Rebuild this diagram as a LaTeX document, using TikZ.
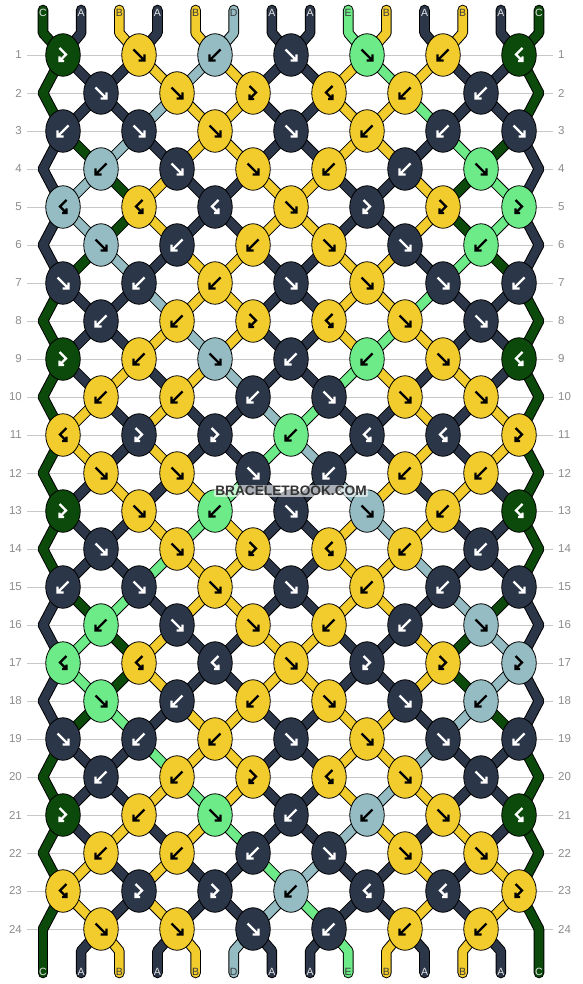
\documentclass[tikz,border=0pt]{standalone}
\usepackage{fontspec}
\setmainfont{Liberation Sans}
\usetikzlibrary{shapes.geometric}
\definecolor{cN}{HTML}{2C3649}
\definecolor{cY}{HTML}{F2CC2D}
\definecolor{cL}{HTML}{94BCC2}
\definecolor{cG}{HTML}{6CEB88}
\definecolor{cK}{HTML}{0B4A0B}
\colorlet{gN}{white}\colorlet{gK}{white}
\colorlet{gY}{black}\colorlet{gL}{black}\colorlet{gG}{black}
\definecolor{tN}{HTML}{E6E6E6}\definecolor{tK}{HTML}{E6E6E6}
\definecolor{tY}{HTML}{3A3A3A}\definecolor{tL}{HTML}{3A3A3A}\definecolor{tG}{HTML}{3A3A3A}
\definecolor{rulegray}{HTML}{C8C8C8}
\definecolor{numgray}{HTML}{8C8C8C}
\definecolor{wmgray}{HTML}{333333}
\def\letK{C}\def\letN{A}\def\letY{B}\def\letL{D}\def\letG{E}
\def\setS#1#2#3{\expandafter\xdef\csname S-\number#1-\number#2\endcsname{#3}}
\def\getS#1#2{\csname S-\number#1-\number#2\endcsname}
\def\setKC#1#2#3{\expandafter\xdef\csname KC-\number#1-\number#2\endcsname{#3}}
\def\setKT#1#2#3{\expandafter\xdef\csname KT-\number#1-\number#2\endcsname{#3}}
% knot types: 1 forward, 2 backward, 3 forward-backward, 4 backward-forward
\def\rowtypes#1{\ifcase#1\relax\or
3,1,2,1,1,2,4\or
1,1,3,4,2,2\or
2,1,1,1,2,2,1\or
2,1,1,2,2,1\or
4,4,4,1,3,3,3\or
1,2,2,1,1,2\or
1,2,2,1,1,1,2\or
2,2,3,4,1,1\or
3,2,1,2,2,1,4\or
2,2,2,1,1,1\or
4,3,3,2,4,4,3\or
1,1,1,2,2,2\fi}
% name of the place of string #1 in row #2
\def\Nof#1#2{%
  \ifodd#2\relax
    \pgfmathtruncatemacro\kidx{floor(#1/2)}\edef\nres{k#2-\kidx}%
  \else
    \ifnum#1=0 \edef\nres{eL#2}\else\ifnum#1=13 \edef\nres{eR#2}\else
      \pgfmathtruncatemacro\kidx{floor((#1-1)/2)}\edef\nres{k#2-\kidx}\fi\fi
  \fi}
\newcommand\strseg[1]{\ifnum\pass=0 \draw[strO] #1;\else\draw[strF,draw=c\scol] #1;\fi}
\newcommand\knotglyph[2]{%
  \ifcase#1\relax\or
   \draw[gly,#2] (-5.5,-5.5) -- (5.5,5.5) (5.5,-0.5) -- (5.5,5.5) -- (-0.5,5.5);
  \or
   \draw[gly,#2] (5.5,-5.5) -- (-5.5,5.5) (-5.5,-0.5) -- (-5.5,5.5) -- (0.5,5.5);
  \or
   \draw[gly,#2] (-3.5,-7) -- (3,-0.5) -- (-3.5,6) (-3.5,1.5) -- (-3.5,6) -- (1,6);
  \or
   \draw[gly,#2] (3.5,-7) -- (-3,-0.5) -- (3.5,6) (3.5,1.5) -- (3.5,6) -- (-1,6);
  \fi}
\begin{document}
\begin{tikzpicture}[x=1pt,y=-1pt,
  strO/.style={line width=10.6pt,line cap=round,line join=round,draw=black},
  strF/.style={line width=8.6pt,line cap=round,line join=round},
  knot/.style={ellipse,draw=black,line width=0.8pt,minimum width=34.5pt,minimum height=42.5pt,inner sep=0pt},
  gly/.style={line width=2.2pt,line cap=butt,line join=miter},
  rowrule/.style={draw=rulegray,line width=0.9pt},
  rownum/.style={text=numgray,font=\fontsize{11.5}{12}\selectfont,inner sep=0pt},
  strlab/.style={font=\fontsize{10.5}{12}\selectfont,inner sep=0pt},
  wm/.style={font=\bfseries\fontsize{13.7}{15}\selectfont,inner xsep=1.5pt,inner ysep=1pt,
    fill=white,fill opacity=0.6,text opacity=1,rounded corners=2pt}]
\fill[white] (0,0) rectangle (582,984);
\useasboundingbox (0,0) rectangle (582,984);
% ---- simulation of the strings ----
\foreach \colL [count=\ps from 0] in {K,N,Y,N,Y,L,N,N,G,Y,N,Y,N,K}{\setS{0}{\ps}{\colL}}
\foreach \rw in {1,...,24}{%
  \pgfmathtruncatemacro\rmod{mod(\rw-1,12)+1}%
  \pgfmathtruncatemacro\rodd{mod(\rw,2)}%
  \pgfmathtruncatemacro\prev{\rw-1}%
  \foreach \ps in {0,...,13}{\setS{\rw}{\ps}{\getS{\prev}{\ps}}}%
  \edef\tlist{\rowtypes{\rmod}}%
  \foreach \ty [count=\kn from 0] in \tlist {%
    \pgfmathtruncatemacro\pL{2*\kn+1-\rodd}%
    \pgfmathtruncatemacro\pR{\pL+1}%
    \edef\Lc{\getS{\prev}{\pL}}%
    \edef\Rc{\getS{\prev}{\pR}}%
    \setKT{\rw}{\kn}{\ty}%
    \ifcase\ty\relax\or
      \setKC{\rw}{\kn}{\Lc}\setS{\rw}{\pL}{\Rc}\setS{\rw}{\pR}{\Lc}%
    \or
      \setKC{\rw}{\kn}{\Rc}\setS{\rw}{\pL}{\Rc}\setS{\rw}{\pR}{\Lc}%
    \or
      \setKC{\rw}{\kn}{\Lc}%
    \or
      \setKC{\rw}{\kn}{\Rc}%
    \fi
  }%
}
% ---- coordinates ----
\foreach \rw in {1,...,24}{%
  \pgfmathsetmacro\yy{55+38*(\rw-1)}%
  \ifodd\rw\relax
    \foreach \kn in {0,...,6}{\coordinate (k\rw-\kn) at ({63+76*\kn},\yy);}%
  \else
    \foreach \kn in {0,...,5}{\coordinate (k\rw-\kn) at ({101+76*\kn},\yy);}%
    \coordinate (eL\rw) at (43,\yy);
    \coordinate (eR\rw) at (539,\yy);
  \fi
}
\foreach \ps in {0,...,13}{%
  \pgfmathsetmacro\xx{43+38.154*\ps}%
  \coordinate (ta\ps) at (\xx,10);
  \coordinate (tb\ps) at (\xx,33);
  \coordinate (ba\ps) at (\xx,951);
  \coordinate (bb\ps) at (\xx,973);
}
% ---- row rules and numbers ----
\foreach \rw in {1,...,24}{%
  \pgfmathsetmacro\yy{55+38*(\rw-1)}%
  \draw[rowrule] (27,\yy) -- (553,\yy);
  \node[rownum,anchor=east] (nl\rw) at (22,\yy) {\rw};
  \node[rownum,anchor=west] (nr\rw) at (558,\yy) {\rw};
}
% ---- strings ----
\foreach \pass in {0,1}{%
  \foreach \ps in {0,...,13}{%
    \edef\scol{\getS{0}{\ps}}%
    \Nof{\ps}{1}%
    \strseg{(ta\ps) -- (tb\ps) -- (\nres)}%
    \edef\scol{\getS{24}{\ps}}%
    \Nof{\ps}{24}%
    \strseg{(\nres) -- (ba\ps) -- (bb\ps)}%
    \foreach \rw in {1,...,23}{%
      \pgfmathtruncatemacro\rn{\rw+1}%
      \Nof{\ps}{\rw}\let\na\nres
      \Nof{\ps}{\rn}\let\nb\nres
      \edef\scol{\getS{\rw}{\ps}}%
      \strseg{(\na) -- (\nb)}%
    }%
  }%
}
% ---- knots ----
\foreach \rw in {1,...,24}{%
  \pgfmathtruncatemacro\nkm{5+mod(\rw,2)}%
  \foreach \kn in {0,...,\nkm}{%
    \edef\kcol{\csname KC-\rw-\kn\endcsname}%
    \edef\ktyp{\csname KT-\rw-\kn\endcsname}%
    \node[knot,fill=c\kcol] (n\rw-\kn) at (k\rw-\kn) {};
    \begin{scope}[shift={(k\rw-\kn)}]\knotglyph{\ktyp}{g\kcol}\end{scope}
  }%
}
% ---- string letters ----
\foreach \ps in {0,...,13}{%
  \pgfmathsetmacro\xx{43+38.154*\ps}%
  \edef\scol{\getS{0}{\ps}}%
  \node[strlab,text=t\scol] (lt\ps) at (\xx,12.5) {\csname let\scol\endcsname};
  \edef\scol{\getS{24}{\ps}}%
  \node[strlab,text=t\scol] (lb\ps) at (\xx,972) {\csname let\scol\endcsname};
}
% ---- watermark ----
\node[wm,text=wmgray] (wm) at (291,491) {BRACELETBOOK.COM};
\end{tikzpicture}
\end{document}
